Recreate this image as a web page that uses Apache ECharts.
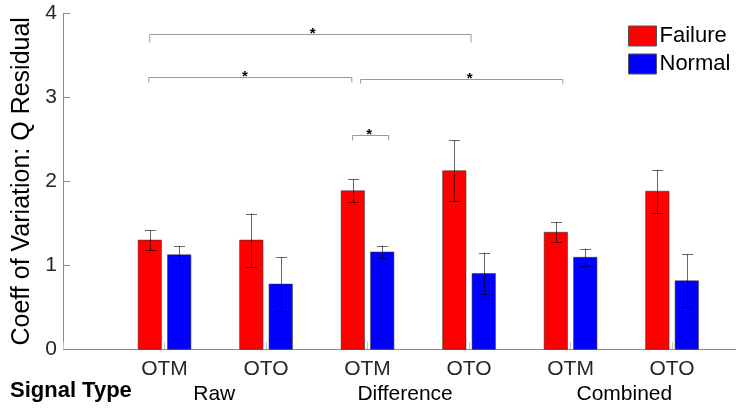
<!DOCTYPE html>
<html>
<head>
<meta charset="utf-8">
<script src="https://cdn.jsdelivr.net/npm/echarts@6/dist/echarts.min.js"></script>
<style>
  html, body { margin: 0; padding: 0; background: #fff; }
  #chart { width: 736px; height: 408px; }
</style>
</head>
<body>
<div id="chart"></div>
<script>
// Bar groups along the x axis (positions 1..6)
const categories = ['OTM', 'OTO', 'OTM', 'OTO', 'OTM', 'OTO'];
// Signal type captions under each pair of groups, with their x positions
const signalTypes = ['Raw', 'Difference', 'Combined'];
const signalTypePos = [1.49, 3.37, 5.53];
// Mean coefficient of variation and its error (half-length of the error bar)
const failureMean = [1.30, 1.30, 1.887, 2.125, 1.393, 1.882];
const failureErr  = [0.119, 0.316, 0.137, 0.363, 0.119, 0.256];
const normalMean  = [1.125, 0.776, 1.158, 0.902, 1.095, 0.815];
const normalErr   = [0.101, 0.320, 0.075, 0.248, 0.103, 0.316];
// Y ticks
const yTicks = [0, 1, 2, 3, 4];
// Significance brackets: [start x, end x, height, star x]
const brackets = [
  [0.855, 4.02, 3.75, 2.459],
  [0.845, 2.845, 3.238, 1.792],
  [2.932, 4.924, 3.214, 4.007],
  [2.853, 3.208, 2.548, 3.015]
];
const bracketLegPx = [8, 5, 4, 5];

const BAR_W = 0.23;
const BAR_OFFSET = 0.145;
const FONT = 'Liberation Sans, Arial, Helvetica, sans-serif';

const chart = echarts.init(document.getElementById('chart'));

function barSeries(name, color, means, errs, offset) {
  return {
    type: 'custom',
    name: name,
    clip: false,
    data: means.map((m, i) => [i + 1, m, errs[i]]),
    encode: { x: 0, y: 1 },
    z: 3,
    renderItem: function (params, api) {
      const x = api.value(0) + offset;
      const m = api.value(1);
      const e = api.value(2);
      const top = api.coord([x, m]);
      const base = api.coord([x, 0]);
      const hi = api.coord([x, m + e]);
      const lo = api.coord([x, m - e]);
      const w = api.size([BAR_W, 0])[0];
      const cx = Math.round(top[0]) + 0.5;
      const cap = 5.5;
      const errStyle = { stroke: 'rgba(0,0,0,0.6)', lineWidth: 1 };
      return {
        type: 'group',
        children: [
          {
            type: 'rect',
            shape: { x: top[0] - w / 2, y: top[1], width: w, height: base[1] - top[1] },
            style: { fill: color, stroke: 'rgba(50,50,50,0.55)', lineWidth: 1 }
          },
          { type: 'line', shape: { x1: cx, y1: hi[1], x2: cx, y2: lo[1] }, style: errStyle },
          { type: 'line', shape: { x1: cx - cap, y1: Math.round(hi[1]) + 0.5, x2: cx + cap, y2: Math.round(hi[1]) + 0.5 }, style: errStyle },
          { type: 'line', shape: { x1: cx - cap, y1: Math.round(lo[1]) + 0.5, x2: cx + cap, y2: Math.round(lo[1]) + 0.5 }, style: errStyle }
        ]
      };
    }
  };
}

const bracketSeries = {
  type: 'custom',
  name: 'significance',
  clip: false,
  silent: true,
  z: 4,
  data: brackets,
  encode: { x: [0, 1], y: 2 },
  renderItem: function (params, api) {
    const a = api.coord([api.value(0), api.value(2)]);
    const b = api.coord([api.value(1), api.value(2)]);
    const s = api.coord([api.value(3), api.value(2)]);
    const leg = bracketLegPx[params.dataIndex];
    const y = Math.round(a[1]) + 0.5;
    return {
      type: 'group',
      children: [
        {
          type: 'polyline',
          shape: { points: [[a[0], y + leg], [a[0], y], [b[0], y], [b[0], y + leg]] },
          style: { stroke: '#9a9a9a', lineWidth: 1, fill: null }
        },
        {
          type: 'text',
          style: {
            x: s[0], y: y - 1, text: '*', fill: '#000',
            font: 'bold 15px ' + FONT, align: 'center', verticalAlign: 'middle'
          }
        }
      ]
    };
  }
};

chart.setOption({
  animation: false,
  backgroundColor: '#fff',
  textStyle: { fontFamily: FONT },
  grid: { left: 63, right: 0, top: 13.3, bottom: 58.7, containLabel: false },
  legend: {
    orient: 'vertical',
    left: 628,
    top: 25,
    padding: 0,
    itemWidth: 28,
    itemHeight: 20,
    itemGap: 6,
    icon: 'rect',
    selectedMode: false,
    textStyle: { fontSize: 22, color: '#000', fontFamily: FONT, padding: [0, 0, 0, -2] },
    data: [
      { name: 'Failure', itemStyle: { color: '#ff0000', borderColor: '#555', borderWidth: 1 } },
      { name: 'Normal', itemStyle: { color: '#0000ff', borderColor: '#555', borderWidth: 1 } }
    ]
  },
  xAxis: {
    type: 'value',
    min: 0,
    max: 6.63,
    interval: 1,
    splitLine: { show: false },
    axisLine: { show: true, lineStyle: { color: '#8a8a8a', width: 1 } },
    axisTick: { show: true, inside: true, length: 7, lineStyle: { color: '#c4c4c4' } },
    axisLabel: {
      margin: 9,
      fontSize: 21,
      color: '#262626',
      fontFamily: FONT,
      showMaxLabel: false,
      formatter: function (v) {
        return Number.isInteger(v) && v >= 1 && v <= categories.length ? categories[v - 1] : '';
      }
    }
  },
  yAxis: {
    type: 'value',
    min: yTicks[0],
    max: yTicks[yTicks.length - 1],
    interval: 1,
    name: 'Coeff of Variation: Q Residual',
    nameLocation: 'middle',
    nameGap: 27,
    nameTextStyle: { fontSize: 25, color: '#000', fontFamily: FONT },
    splitLine: { show: false },
    axisLine: { show: true, lineStyle: { color: '#8a8a8a', width: 1 } },
    axisTick: { show: true, inside: true, length: 7, lineStyle: { color: '#8a8a8a' } },
    axisLabel: { margin: 6, fontSize: 21, color: '#262626', fontFamily: FONT }
  },
  series: [
    barSeries('Failure', '#ff0000', failureMean, failureErr, -BAR_OFFSET),
    barSeries('Normal', '#0000ff', normalMean, normalErr, BAR_OFFSET),
    bracketSeries
  ]
});

// Signal type captions placed under their groups through the x scale
const captionY = 394;
const graphics = signalTypes.map((t, i) => ({
  type: 'text',
  x: chart.convertToPixel({ xAxisIndex: 0 }, signalTypePos[i]),
  y: captionY,
  style: { text: t, font: '21px ' + FONT, fill: '#000', align: 'center', verticalAlign: 'middle' }
}));
graphics.push({
  type: 'text',
  left: 10,
  top: 380,
  style: { text: 'Signal Type', font: 'bold 22px ' + FONT, fill: '#000' }
});
chart.setOption({ graphic: graphics });
</script>
</body>
</html>
